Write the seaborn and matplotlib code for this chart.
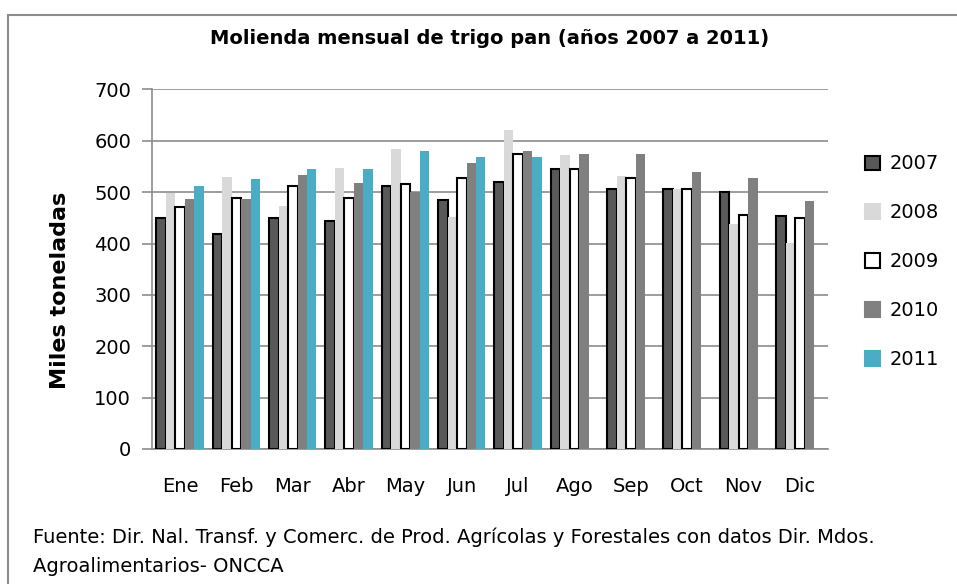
import numpy as np
import pandas as pd
import matplotlib
matplotlib.use("Agg")
import matplotlib.pyplot as plt
import seaborn as sns
from matplotlib.patches import Rectangle, Patch

# Datos (miles de toneladas)
meses = ['Ene', 'Feb', 'Mar', 'Abr', 'May', 'Jun', 'Jul', 'Ago', 'Sep', 'Oct', 'Nov', 'Dic']
anios = ['2007', '2008', '2009', '2010', '2011']
v2007 = [450, 419, 450, 443, 512, 485, 520, 545, 507, 507, 500, 453]
v2008 = [499, 529, 474, 548, 584, 451, 622, 572, 531, 507, 439, 402]
v2009 = [471, 489, 512, 489, 516, 528, 575, 546, 527, 507, 456, 449]
v2010 = [486, 486, 533, 517, 501, 557, 580, 575, 575, 540, 528, 482]
v2011 = [513, 525, 545, 545, 580, 569, 569, np.nan, np.nan, np.nan, np.nan, np.nan]

colores = ['#595959', '#D9D9D9', '#FFFFFF', '#808080', '#4BACC6']
bordes = ['#000000', 'none', '#000000', 'none', 'none']

series = [v2007, v2008, v2009, v2010, v2011]
filas = []
for anio, vals in zip(anios, series):
    for mes, v in zip(meses, vals):
        filas.append({'Mes': mes, 'Anio': anio, 'Valor': v})
df = pd.DataFrame(filas).dropna()

sns.set_style('white')
plt.rcParams['font.family'] = ['DejaVu Sans']
plt.rcParams['text.color'] = 'black'
plt.rcParams['xtick.labelcolor'] = 'black'
plt.rcParams['ytick.labelcolor'] = 'black'

fig = plt.figure(figsize=(9.57, 5.84), dpi=100)
ax = fig.add_axes([0.1588, 0.2312, 0.7064, 0.6156])

sns.barplot(data=df, x='Mes', y='Valor', hue='Anio', order=meses, hue_order=anios,
            palette=colores, width=0.84, saturation=1, errorbar=None, ax=ax, zorder=3)

for cont, ec in zip(ax.containers, bordes):
    for p in cont:
        if ec == 'none':
            p.set_edgecolor('none')
            p.set_linewidth(0)
        else:
            p.set_edgecolor(ec)
            p.set_linewidth(1.5)

ax.set_ylim(0, 700)
ax.set_yticks(range(0, 701, 100))
ax.set_xlim(-0.5, 11.5)
ax.yaxis.grid(True, color='#8C8C8C', linewidth=1.2, zorder=0)
ax.set_axisbelow(True)
for s in ['top', 'right']:
    ax.spines[s].set_visible(False)
for s in ['left', 'bottom']:
    ax.spines[s].set_color('#8C8C8C')
    ax.spines[s].set_linewidth(1.2)

# ticks del eje x entre categorias
ax.set_xticks(np.arange(12))
ax.set_xticklabels(meses)
ax.set_xticks(np.arange(-0.5, 12, 1), minor=True)
ax.tick_params(axis='x', which='major', length=0, labelsize=14, pad=20, labelcolor='black')
ax.tick_params(axis='x', which='minor', length=7, width=1.2, color='#8C8C8C', direction='out')
ax.tick_params(axis='y', length=7, width=1.2, color='#8C8C8C', direction='out',
               labelsize=14, pad=8, left=True, labelcolor='black')

ax.set_xlabel('')
ax.set_ylabel('')
fig.text(60 / 957, 1 - 290 / 584, 'Miles toneladas', rotation=90, fontsize=16,
         fontweight='bold', ha='center', va='center', color='black')
fig.text(490 / 957, 1 - 38 / 584, 'Molienda mensual de trigo pan (años 2007 a 2011)',
         fontsize=14, fontweight='bold', ha='center', va='center', color='black')

if ax.get_legend() is not None:
    ax.get_legend().remove()
handles = [Patch(facecolor=c, edgecolor=(e if e != 'none' else c), linewidth=1.5)
           for c, e in zip(colores, bordes)]
fig.legend(handles, anios, loc='upper left', bbox_to_anchor=(0.886, 0.7655),
           frameon=False, fontsize=14, handlelength=0.75, handleheight=0.75,
           labelspacing=1.54, handletextpad=0.5, labelcolor='black')

fig.text(0.034, 1 - 537 / 584,
         'Fuente: Dir. Nal. Transf. y Comerc. de Prod. Agrícolas y Forestales con datos Dir. Mdos.',
         fontsize=14, va='center', ha='left', color='black')
fig.text(0.034, 1 - 566 / 584, 'Agroalimentarios- ONCCA', fontsize=14, va='center',
         ha='left', color='black')

# borde del area del grafico
fig.patches.append(Rectangle((8 / 957, -0.05), 1.1, 1 - 15 / 584 + 0.05,
                             transform=fig.transFigure, fill=False,
                             edgecolor='#8C8C8C', linewidth=1.5))

fig.savefig('out.png', dpi=100)
